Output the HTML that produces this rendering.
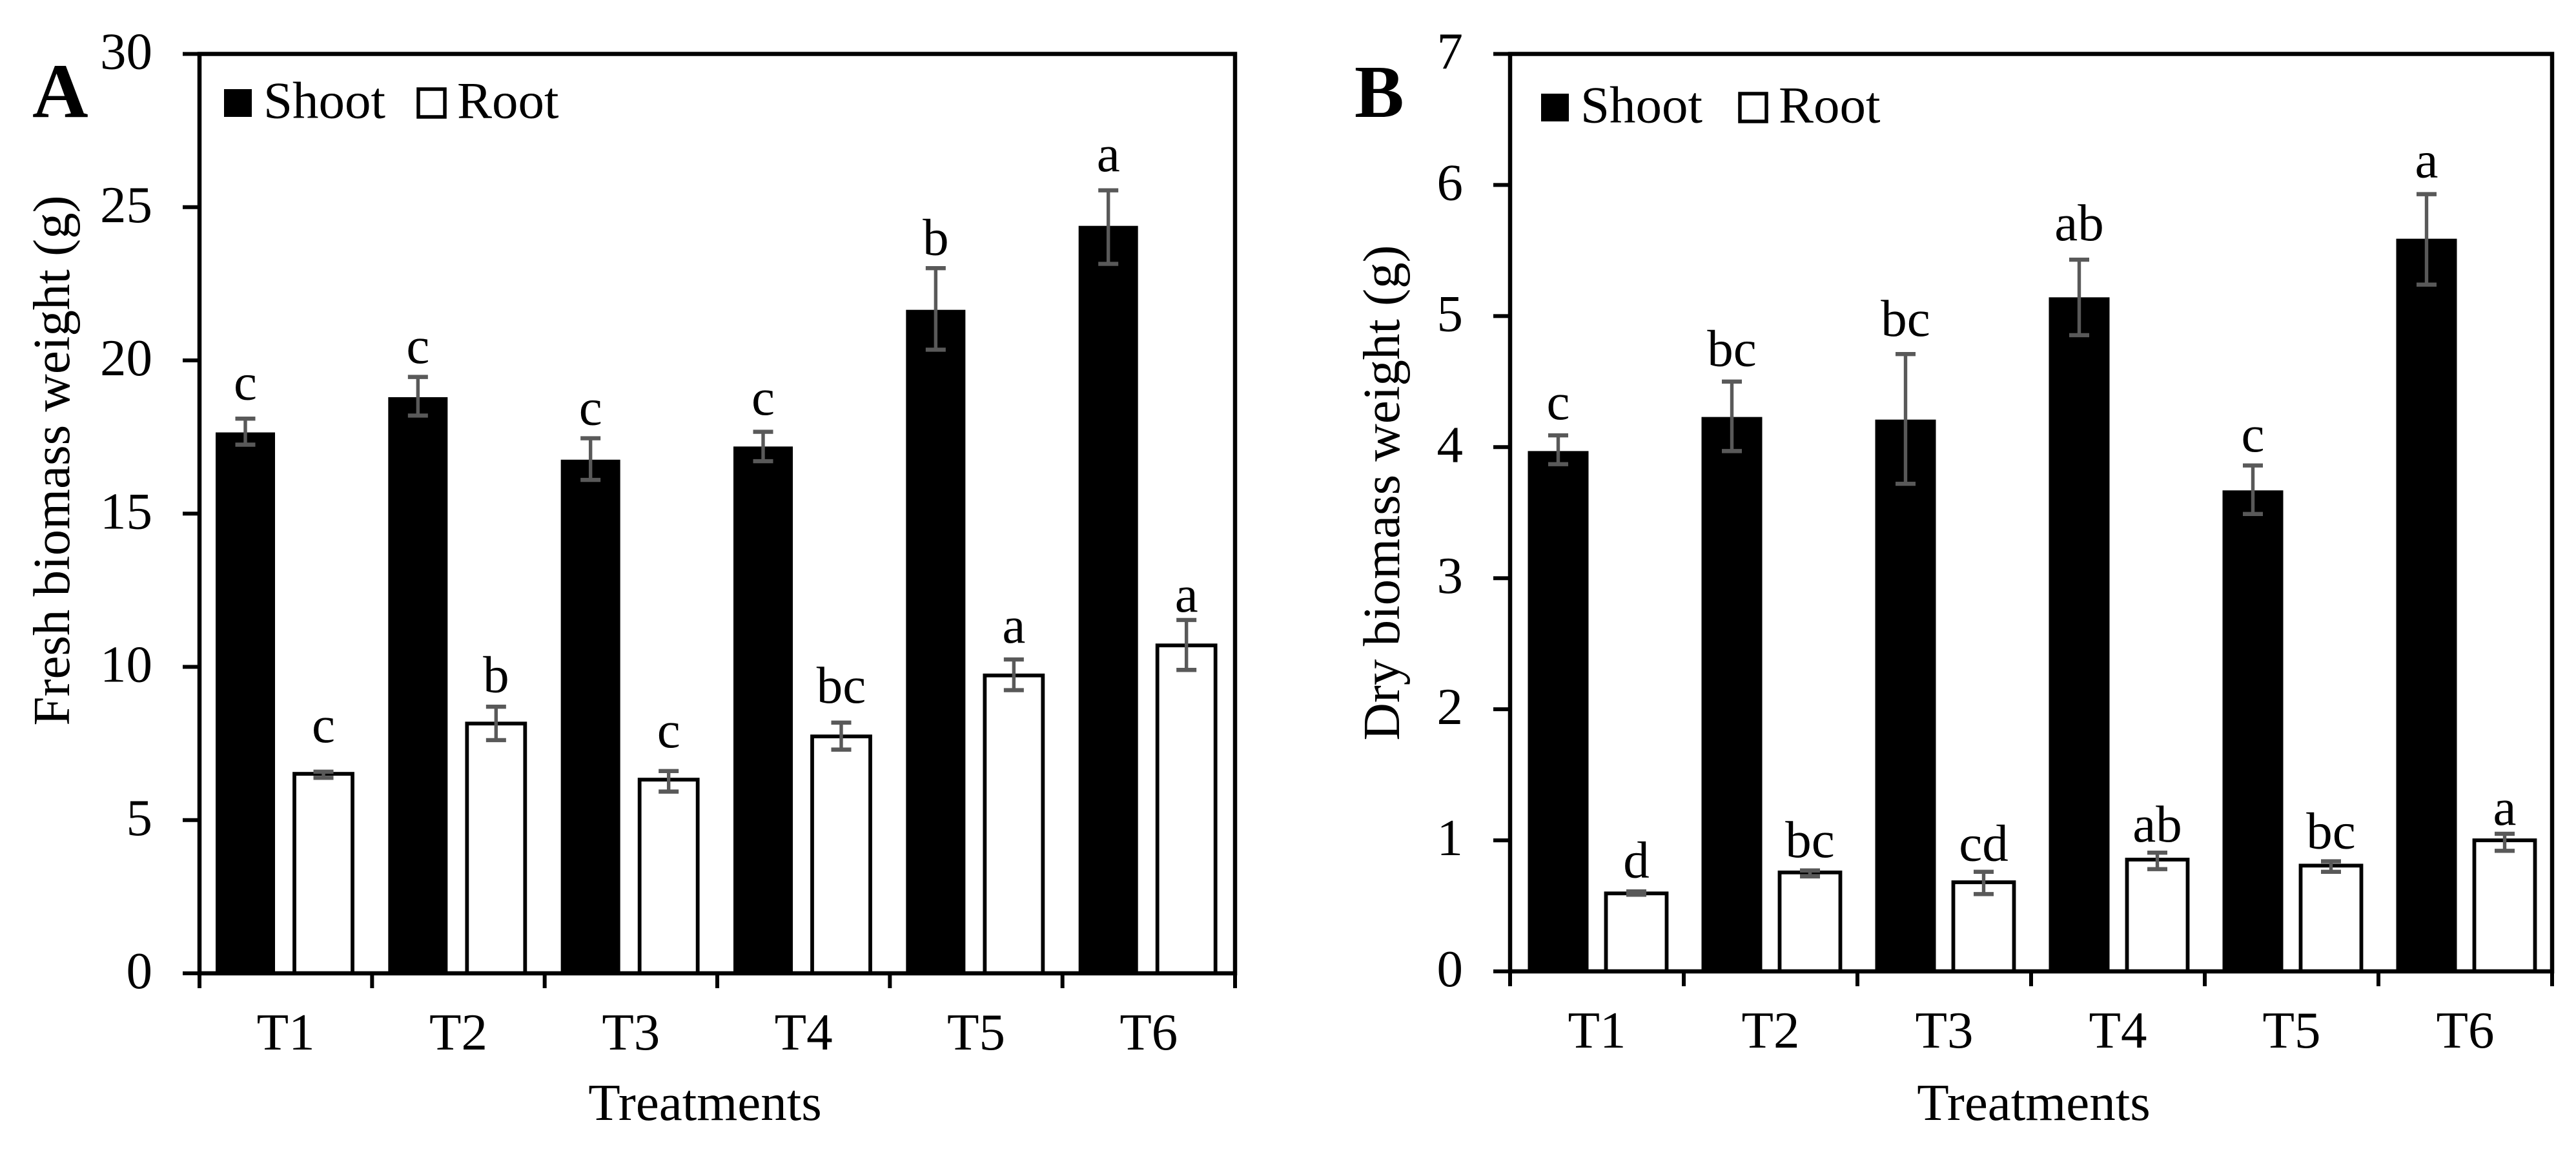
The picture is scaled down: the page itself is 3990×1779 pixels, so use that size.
<!DOCTYPE html>
<html lang="en">
<head>
<meta charset="utf-8">
<title>Fresh and dry biomass weight</title>
<style>
  html, body { margin: 0; padding: 0; background: #fff; }
  #figure { display: block; width: 3990px; height: 1779px; }
  text { font-family: "Liberation Serif", "Times New Roman", serif; fill: #000; font-size: 81px; }
</style>
</head>
<body>
<svg id="figure" xmlns="http://www.w3.org/2000/svg" width="3990" height="1779" viewBox="0 0 3990 1779"></svg>
<script>
const categories = ["T1", "T2", "T3", "T4", "T5", "T6"];

const freshTicks = [0, 5, 10, 15, 20, 25, 30];
const freshShoot = [17.65, 18.8, 16.76, 17.19, 21.65, 24.39];
const freshShootUpper = [18.1, 19.46, 17.46, 17.67, 23.01, 25.55];
const freshShootLower = [17.25, 18.2, 16.1, 16.71, 20.35, 23.15];
const freshRoot = [6.51, 8.15, 6.32, 7.73, 9.72, 10.7];
const freshRootUpper = [6.58, 8.7, 6.6, 8.18, 10.24, 11.53];
const freshRootLower = [6.38, 7.61, 5.93, 7.3, 9.24, 9.9];
const freshShootLetters = ["c", "c", "c", "c", "b", "a"];
const freshRootLetters = ["c", "b", "c", "bc", "a", "a"];
const freshShootLetterLift = [0.63, 0.46, 0.44, 0.56, 0.44, 0.63];
const freshRootLetterLift = [0.97, 0.48, 0.78, 0.65, 0.55, 0.27];

const dryTicks = [0, 1, 2, 3, 4, 5, 6, 7];
const dryShoot = [3.97, 4.23, 4.21, 5.143, 3.67, 5.59];
const dryShootUpper = [4.09, 4.5, 4.71, 5.43, 3.86, 5.93];
const dryShootLower = [3.87, 3.97, 3.72, 4.854, 3.49, 5.24];
const dryRoot = [0.595, 0.755, 0.68, 0.853, 0.807, 1.0];
const dryRootUpper = [0.61, 0.77, 0.76, 0.906, 0.84, 1.05];
const dryRootLower = [0.585, 0.725, 0.59, 0.78, 0.76, 0.92];
const dryShootLetters = ["c", "bc", "bc", "ab", "c", "a"];
const dryRootLetters = ["d", "bc", "cd", "ab", "bc", "a"];
const dryShootLetterLift = [0.123, 0.121, 0.14, 0.148, 0.108, 0.13];
const dryRootLetterLift = [0.108, 0.103, 0.084, 0.084, 0.099, 0.069];

const svg = document.getElementById('figure');
const NS = 'http://www.w3.org/2000/svg';

function node(parent, tag, attrs) {
  const el = document.createElementNS(NS, tag);
  for (const k in attrs) el.setAttribute(k, attrs[k]);
  parent.appendChild(el);
  return el;
}

function label(parent, x, y, str, anchor, size, weight) {
  const el = node(parent, 'text', { x: x, y: y, 'text-anchor': anchor || 'middle' });
  if (size) el.style.fontSize = size + 'px';
  if (weight) el.style.fontWeight = weight;
  el.textContent = str;
  return el;
}

function drawPanel(p) {
  const g = node(svg, 'g', {});
  
  

  const yScale = function (v) { return p.y0 + (p.yTop - p.y0) * v / p.yMax; };
  const band = (p.x1 - p.x0) / categories.length;
  const xBand = function (i) { return p.x0 + band * i; };

  // panel letter
  const letter = label(g, p.letterX, 181, p.letter, 'start', p.letterSize, 'bold');
  
  

  // bars, error bars, significance letters
  categories.forEach(function (cat, i) {
    const sx = xBand(i) + p.shootOffset;
    const shootBar = node(g, 'rect', { x: sx, y: yScale(p.shoot[i]), width: p.shootWidth, height: p.y0 - yScale(p.shoot[i]), fill: '#000' });
    
    

    const rx = xBand(i) + p.rootOffset;
    const rootBar = node(g, 'rect', { x: rx, y: yScale(p.root[i]), width: p.rootWidth, height: p.y0 - yScale(p.root[i]), fill: '#fff', stroke: '#000', 'stroke-width': 5.8 });
    
    

    [[sx + p.shootWidth / 2, p.shootUpper[i], p.shootLower[i], p.shootLetters[i], 'shoot', p.shootLift[i]],
     [rx + p.rootWidth / 2, p.rootUpper[i], p.rootLower[i], p.rootLetters[i], 'root', p.rootLift[i]]].forEach(function (s) {
      const cx = s[0], top = yScale(s[1]), bottom = yScale(s[2]);
      const stem = node(g, 'path', {
        d: 'M' + cx + ' ' + top + 'V' + bottom,
        stroke: '#595959', 'stroke-width': 5.4, fill: 'none'
      });
      
      
      const caps = node(g, 'path', {
        d: 'M' + (cx - 15.5) + ' ' + top + 'H' + (cx + 15.5) + 'M' + (cx - 15.5) + ' ' + bottom + 'H' + (cx + 15.5),
        stroke: '#595959', 'stroke-width': 6.4, fill: 'none'
      });
      
      

      const sig = label(g, cx, yScale(s[1] + s[5]), s[3], 'middle');
      
      
    });
  });

  // y axis ticks and labels
  p.ticks.forEach(function (t) {
    const y = yScale(t);
    const tick = node(g, 'line', { x1: p.x0 - 26, x2: p.x0, y1: y, y2: y, stroke: '#000', 'stroke-width': 6 });
    
    
    const tl = label(g, p.x0 - 73, y + 23, String(t), 'end');
    
    
  });

  // x axis ticks and labels
  for (let i = 0; i <= categories.length; i++) {
    const tick = node(g, 'line', { x1: xBand(i), x2: xBand(i), y1: p.y0, y2: p.y0 + 23, stroke: '#000', 'stroke-width': 6 });
    
    
  }
  categories.forEach(function (cat, i) {
    const tl = label(g, xBand(i) + band / 2, p.y0 + 118, cat, 'middle');
    
    
  });

  // plot frame
  const frame = node(g, 'rect', { x: p.x0, y: p.yTop, width: p.x1 - p.x0, height: p.y0 - p.yTop, fill: 'none', stroke: '#000', 'stroke-width': 6.5 });
  
  

  // axis titles
  const xt = label(g, p.xTitleX, 1734, 'Treatments', 'middle');
  
  

  const yt = label(g, 0, 0, p.yTitle, 'middle');
  yt.setAttribute('transform', 'translate(' + p.yTitleX + ' ' + p.yTitleY + ') rotate(-90)');
  
  

  // legend
  const lg = node(g, 'g', {});
  
  

  const ss = node(lg, 'rect', { x: p.legendX, y: p.legendY, width: 43, height: 43, fill: '#000' });
  
  
  const st = label(lg, p.legendX + 61, p.legendY + 44.5, 'Shoot', 'start');
  
  

  const rs = node(lg, 'rect', { x: p.legendX + p.legendGap, y: p.legendY, width: 41, height: 43, fill: '#fff', stroke: '#000', 'stroke-width': 5.5 });
  
  
  const rt = label(lg, p.legendX + p.legendGap + 60, p.legendY + 44.5, 'Root', 'start');
  
  
}

drawPanel({
  key: 'fresh', letter: 'A', letterX: 50, letterSize: 120,
  x0: 309, x1: 1913, yTop: 83.5, y0: 1507, yMax: 30,
  shootOffset: 25, shootWidth: 92, rootOffset: 147, rootWidth: 90,
  ticks: freshTicks, shoot: freshShoot, shootUpper: freshShootUpper, shootLower: freshShootLower,
  root: freshRoot, rootUpper: freshRootUpper, rootLower: freshRootLower,
  shootLetters: freshShootLetters, rootLetters: freshRootLetters,
  shootLift: freshShootLetterLift, rootLift: freshRootLetterLift,
  yTitle: 'Fresh biomass weight (g)', yTitleX: 107, yTitleY: 713, xTitleX: 1092,
  legendX: 347, legendY: 138, legendGap: 301
});

drawPanel({
  key: 'dry', letter: 'B', letterX: 2098, letterSize: 115,
  x0: 2339, x1: 3953, yTop: 83.5, y0: 1504, yMax: 7,
  shootOffset: 27.5, shootWidth: 94, rootOffset: 148.5, rootWidth: 94,
  ticks: dryTicks, shoot: dryShoot, shootUpper: dryShootUpper, shootLower: dryShootLower,
  root: dryRoot, rootUpper: dryRootUpper, rootLower: dryRootLower,
  shootLetters: dryShootLetters, rootLetters: dryRootLetters,
  shootLift: dryShootLetterLift, rootLift: dryRootLetterLift,
  yTitle: 'Dry biomass weight (g)', yTitleX: 2167, yTitleY: 763, xTitleX: 3150,
  legendX: 2387, legendY: 145, legendGap: 308
});
</script>
</body>
</html>
